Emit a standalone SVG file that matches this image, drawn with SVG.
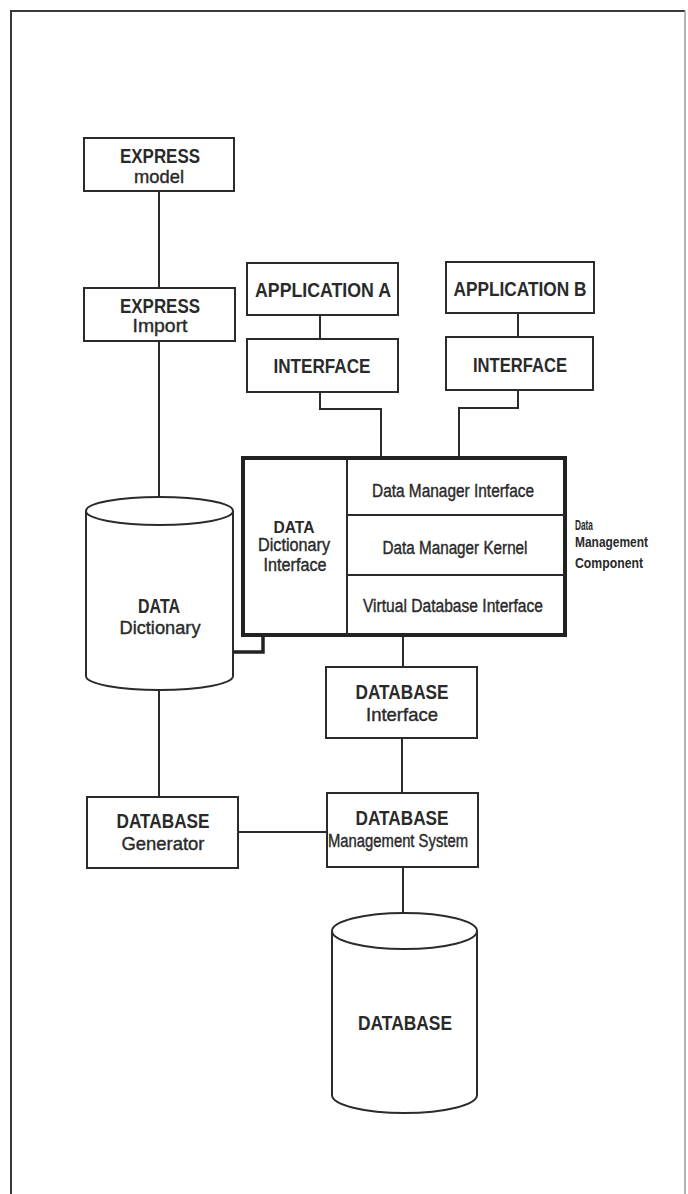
<svg xmlns="http://www.w3.org/2000/svg" width="688" height="1194" viewBox="0 0 688 1194">
  <style>
    .box { fill: #ffffff; stroke: #2b2b2b; stroke-width: 2; }
    .thick { fill: #ffffff; stroke: #222222; stroke-width: 4; }
    .wire { fill: none; stroke: #2b2b2b; stroke-width: 2; }
    .wire-heavy { fill: none; stroke: #222222; stroke-width: 3.5; }
    .frame { fill: none; stroke: #3a3a3a; stroke-width: 2; }
    text { font-family: "Liberation Sans", Arial, sans-serif; fill: #2a2a2a; text-anchor: middle; }
    .t { font-weight: bold; font-size: 20px; }
    .s { font-size: 19px; stroke: #2a2a2a; stroke-width: 0.4; }
    .r { font-size: 18px; stroke: #2a2a2a; stroke-width: 0.4; }
    .m { font-weight: bold; font-size: 17px; }
    .side { font-weight: bold; font-size: 14px; text-anchor: start; }
  </style>

  <rect width="688" height="1194" fill="#ffffff"/>

  <!-- page frame: solid left and top edges, faint right edge -->
  <path class="frame" d="M11,1194 V11 H685"/>
  <line x1="685" y1="11" x2="685" y2="1194" stroke="#9a9a9a" stroke-width="1.5"/>

  <!-- connectors -->
  <g id="connectors">
    <line class="wire" x1="159" y1="191" x2="159" y2="288"/>
    <line class="wire" x1="159" y1="341" x2="159" y2="497"/>
    <line class="wire" x1="320" y1="315" x2="320" y2="339"/>
    <polyline class="wire" points="320,392 320,409 381,409 381,458"/>
    <line class="wire" x1="518" y1="313" x2="518" y2="337"/>
    <polyline class="wire" points="518,390 518,408 459,408 459,458"/>
    <polyline class="wire-heavy" points="233,652 263,652 263,635"/>
    <line class="wire" x1="403" y1="635" x2="403" y2="667"/>
    <line class="wire" x1="402" y1="738" x2="402" y2="793"/>
    <line class="wire" x1="159" y1="690" x2="159" y2="797"/>
    <line class="wire" x1="238" y1="832" x2="327" y2="832"/>
    <line class="wire" x1="403" y1="867" x2="403" y2="913"/>
  </g>

  <g id="express-model">
    <rect class="box" x="84" y="138" width="150" height="53"/>
    <text class="t" x="160" y="163" textLength="80" lengthAdjust="spacingAndGlyphs">EXPRESS</text>
    <text class="s" x="159" y="183" textLength="50" lengthAdjust="spacingAndGlyphs">model</text>
  </g>

  <g id="express-import">
    <rect class="box" x="84" y="288" width="151" height="53"/>
    <text class="t" x="160" y="313" textLength="80" lengthAdjust="spacingAndGlyphs">EXPRESS</text>
    <text class="s" x="160" y="332" textLength="55" lengthAdjust="spacingAndGlyphs">Import</text>
  </g>

  <g id="application-a">
    <rect class="box" x="247" y="263" width="151" height="52"/>
    <text class="t" x="323" y="297" textLength="136" lengthAdjust="spacingAndGlyphs">APPLICATION A</text>
  </g>

  <g id="interface-a">
    <rect class="box" x="247" y="339" width="151" height="53"/>
    <text class="t" x="322" y="373" textLength="97" lengthAdjust="spacingAndGlyphs">INTERFACE</text>
  </g>

  <g id="application-b">
    <rect class="box" x="446" y="262" width="148" height="51"/>
    <text class="t" x="520" y="296" textLength="133" lengthAdjust="spacingAndGlyphs">APPLICATION B</text>
  </g>

  <g id="interface-b">
    <rect class="box" x="446" y="337" width="147" height="53"/>
    <text class="t" x="520" y="372" textLength="94" lengthAdjust="spacingAndGlyphs">INTERFACE</text>
  </g>

  <g id="data-management-component">
    <rect class="thick" x="243" y="458" width="322" height="177"/>
    <line class="wire" x1="347" y1="458" x2="347" y2="635"/>
    <line class="wire" x1="347" y1="515" x2="565" y2="515" stroke-width="3"/>
    <line class="wire" x1="347" y1="575" x2="565" y2="575" stroke-width="3"/>
    <text class="m" x="294" y="533" textLength="41" lengthAdjust="spacingAndGlyphs">DATA</text>
    <text class="r" x="294" y="551" textLength="72" lengthAdjust="spacingAndGlyphs">Dictionary</text>
    <text class="r" x="295" y="571" textLength="63" lengthAdjust="spacingAndGlyphs">Interface</text>
    <text class="r" x="453" y="497" textLength="162" lengthAdjust="spacingAndGlyphs">Data Manager Interface</text>
    <text class="r" x="455" y="554" textLength="145" lengthAdjust="spacingAndGlyphs">Data Manager Kernel</text>
    <text class="r" x="453" y="612" textLength="180" lengthAdjust="spacingAndGlyphs">Virtual Database Interface</text>
    <text class="side" x="575" y="530" textLength="18" lengthAdjust="spacingAndGlyphs">Data</text>
    <text class="side" x="575" y="547" textLength="73" lengthAdjust="spacingAndGlyphs">Management</text>
    <text class="side" x="575" y="568" textLength="68" lengthAdjust="spacingAndGlyphs">Component</text>
  </g>

  <g id="data-dictionary">
    <path class="box" d="M86,511 V676 A73.5,14 0 0 0 233,676 V511"/>
    <ellipse class="box" cx="159.5" cy="511" rx="73.5" ry="14"/>
    <text class="t" x="159" y="613" textLength="42" lengthAdjust="spacingAndGlyphs">DATA</text>
    <text class="s" x="160" y="634" textLength="81" lengthAdjust="spacingAndGlyphs">Dictionary</text>
  </g>

  <g id="database-interface">
    <rect class="box" x="326" y="667" width="151" height="71"/>
    <text class="t" x="402" y="699" textLength="93" lengthAdjust="spacingAndGlyphs">DATABASE</text>
    <text class="s" x="402" y="721" textLength="72" lengthAdjust="spacingAndGlyphs">Interface</text>
  </g>

  <g id="database-generator">
    <rect class="box" x="87" y="797" width="151" height="71"/>
    <text class="t" x="163" y="828" textLength="93" lengthAdjust="spacingAndGlyphs">DATABASE</text>
    <text class="s" x="163" y="850" textLength="83" lengthAdjust="spacingAndGlyphs">Generator</text>
  </g>

  <g id="database-management-system">
    <rect class="box" x="327" y="793" width="151" height="74"/>
    <text class="t" x="402" y="825" textLength="93" lengthAdjust="spacingAndGlyphs">DATABASE</text>
    <text class="r" x="398" y="847" font-size="15" textLength="140" lengthAdjust="spacingAndGlyphs">Management System</text>
  </g>

  <g id="database">
    <path class="box" d="M332,931 V1095 A72.5,18 0 0 0 477,1095 V931"/>
    <ellipse class="box" cx="404.5" cy="931" rx="72.5" ry="18"/>
    <text class="t" x="405" y="1030" textLength="94" lengthAdjust="spacingAndGlyphs">DATABASE</text>
  </g>
</svg>
